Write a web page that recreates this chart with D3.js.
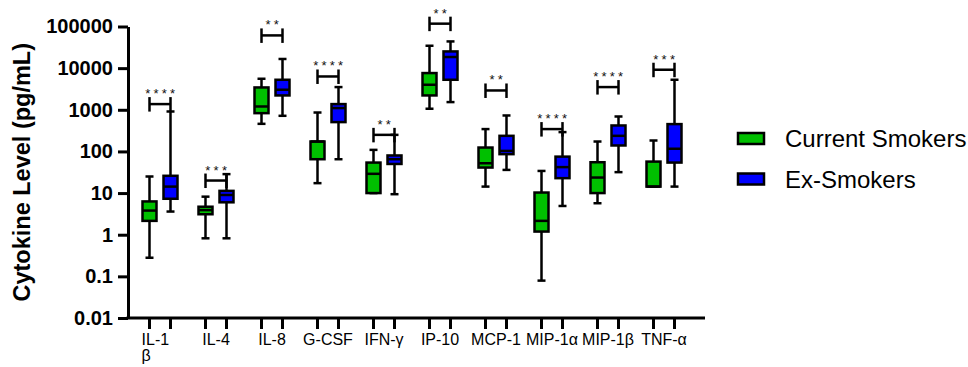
<!DOCTYPE html>
<html><head><meta charset="utf-8">
<script src="https://cdn.jsdelivr.net/npm/d3@7"></script>
<style>
body{margin:0;background:#fff}
svg{display:block;font-family:"Liberation Sans",Arial,Helvetica,sans-serif}
</style></head>
<body><svg id="c" width="968" height="367"></svg>
<script>
// ---------- data ----------
const categories = ["IL-1β","IL-4","IL-8","G-CSF","IFN-γ","IP-10","MCP-1","MIP-1α","MIP-1β","TNF-α"];
const tickLabelLines = [["IL-1","β"],["IL-4"],["IL-8"],["G-CSF"],["IFN-γ"],["IP-10"],["MCP-1"],["MIP-1α"],["MIP-1β"],["TNF-α"]];
const seriesNames = ["Current Smokers","Ex-Smokers"];

// Current smokers: min, q1, median, q3, max
const currentMin = [0.28, 0.82, 460, 17.3, 10, 1060, 14.3, 0.079, 5.7, 14.3];
const currentQ1  = [2.15, 3.1, 830, 65, 10, 2210, 41, 1.19, 10, 14.3];
const currentMed = [3.8, 3.9, 1200, 173, 29, 3990, 52, 2.15, 23.6, 14.3];
const currentQ3  = [6.3, 4.7, 3440, 173, 54, 7620, 124, 10.3, 55, 57];
const currentMax = [25, 8.2, 5560, 860, 109, 34500, 344, 34, 173, 183];

// Ex-smokers: min, q1, median, q3, max
const exMin = [3.6, 0.82, 717, 65, 9.4, 1530, 36, 4.9, 31.8, 14.3];
const exQ1  = [7.3, 6, 2210, 506, 50, 5260, 86, 22.8, 139, 54];
const exMed = [14.3, 9, 3030, 1100, 65, 18500, 103, 42, 237, 116];
const exQ3  = [26, 11.3, 5260, 1370, 80, 25200, 237, 75, 420, 453];
const exMax = [910, 28.5, 16600, 3510, 250, 43800, 730, 291, 690, 5260];

// significance annotations
const sigLabels = ["****","***","**","****","**","**","**","****","****","***"];
const sigLevel  = [1370, 20, 61100, 6310, 250, 117000, 2910, 344, 3510, 9160];

const yTicks = [0.01, 0.1, 1, 10, 100, 1000, 10000, 100000];

// ---------- layout ----------
const colors = {"Current Smokers":"#00c000","Ex-Smokers":"#0000ff"};
const svg = d3.select("#c");
const axisX0 = 128, axisX1 = 705, axisY = 318, axisTop = 26.5;

const x = d3.scaleBand().domain(categories).range([132, 692]).padding(0);
const xs = d3.scalePoint().domain(seriesNames).range([-10.5, 10.5]);
const y = d3.scaleLog().domain([0.01, 100000]).range([axisY, axisTop]);
const cx = (c, s) => x(c) + x.bandwidth()/2 + xs(s);

const boxes = [];
categories.forEach((c, i) => {
  boxes.push({cat:c, s:"Current Smokers", min:currentMin[i], q1:currentQ1[i], med:currentMed[i], q3:currentQ3[i], max:currentMax[i]});
  boxes.push({cat:c, s:"Ex-Smokers", min:exMin[i], q1:exQ1[i], med:exMed[i], q3:exQ3[i], max:exMax[i]});
});

// ---------- y axis ----------
const yAxis = svg.append("g").attr("transform", `translate(${axisX0},0)`)
  .call(d3.axisLeft(y).tickValues(yTicks).tickFormat(d3.format("~g")).tickSize(10).tickSizeOuter(0).tickPadding(5));
yAxis.select(".domain").attr("stroke","#000").attr("stroke-width",3);
yAxis.selectAll(".tick line").attr("stroke","#000").attr("stroke-width",3);
yAxis.selectAll(".tick text").attr("fill","#000").style("font-size","20px").style("font-weight","bold")
  .style("font-family",'"Liberation Sans",Arial,sans-serif');

svg.append("text")
  .attr("transform", `translate(22,${(axisTop+axisY)/2}) rotate(-90)`)
  .attr("text-anchor","middle").attr("dominant-baseline","central")
  .style("font-size","23.5px").style("font-weight","bold").text("Cytokine Level (pg/mL)");

// ---------- x axis ----------
svg.append("line").attr("x1",axisX0-1.5).attr("x2",axisX1).attr("y1",axisY).attr("y2",axisY)
  .attr("stroke","#000").attr("stroke-width",3);
svg.append("g").selectAll("line").data(boxes).join("line")
  .attr("x1", d => cx(d.cat, d.s)).attr("x2", d => cx(d.cat, d.s))
  .attr("y1", axisY).attr("y2", axisY + 11)
  .attr("stroke","#000").attr("stroke-width",3);

const labG = svg.append("g").style("font-size","16px");
categories.forEach((c, i) => {
  const center = x(c) + x.bandwidth()/2;
  const lines = tickLabelLines[i];
  if (lines.length === 1) {
    labG.append("text").attr("x", center).attr("y", 344.5).attr("text-anchor","middle").text(lines[0]);
  } else {
    const tmp = labG.append("text").text(lines.join(""));
    const w = tmp.node().getComputedTextLength(); tmp.remove();
    const t = labG.append("text").attr("x", center - w/2).attr("y", 344.5).attr("text-anchor","start");
    lines.forEach((ln, k) => t.append("tspan").attr("x", center - w/2).attr("dy", k === 0 ? 0 : 16.5).text(ln));
  }
});

// ---------- boxes ----------
const bw = 14, capW = 8, sw = 2.5;
const bg = svg.append("g");
const g = bg.selectAll("g").data(boxes).join("g");
g.append("line").attr("x1", d => cx(d.cat,d.s)).attr("x2", d => cx(d.cat,d.s))
  .attr("y1", d => y(d.min)).attr("y2", d => y(d.max)).attr("stroke","#000").attr("stroke-width",sw);
g.append("line").attr("x1", d => cx(d.cat,d.s)-capW/2).attr("x2", d => cx(d.cat,d.s)+capW/2)
  .attr("y1", d => y(d.max)).attr("y2", d => y(d.max)).attr("stroke","#000").attr("stroke-width",sw);
g.append("line").attr("x1", d => cx(d.cat,d.s)-capW/2).attr("x2", d => cx(d.cat,d.s)+capW/2)
  .attr("y1", d => y(d.min)).attr("y2", d => y(d.min)).attr("stroke","#000").attr("stroke-width",sw);
g.append("rect").attr("x", d => cx(d.cat,d.s)-bw/2).attr("width", bw)
  .attr("y", d => y(d.q3)).attr("height", d => Math.max(0.5, y(d.q1)-y(d.q3)))
  .attr("fill", d => colors[d.s]).attr("stroke","#000").attr("stroke-width",sw);
g.append("line").attr("x1", d => cx(d.cat,d.s)-bw/2).attr("x2", d => cx(d.cat,d.s)+bw/2)
  .attr("y1", d => y(d.med)).attr("y2", d => y(d.med)).attr("stroke","#000").attr("stroke-width",sw);

// ---------- significance brackets ----------
const sg = svg.append("g");
categories.forEach((c, i) => {
  const x1 = cx(c, seriesNames[0]), x2 = cx(c, seriesNames[1]), yy = y(sigLevel[i]);
  sg.append("line").attr("x1",x1).attr("x2",x2).attr("y1",yy).attr("y2",yy).attr("stroke","#000").attr("stroke-width",sw);
  [x1, x2].forEach(xx => sg.append("line").attr("x1",xx).attr("x2",xx).attr("y1",yy-7).attr("y2",yy+7.5)
    .attr("stroke","#000").attr("stroke-width",sw));
  sg.append("text").attr("x",(x1+x2)/2 + 1.75).attr("y", yy - 6).attr("text-anchor","middle")
    .style("font-size","13px").style("letter-spacing","3.2px").attr("fill","#111").text(sigLabels[i]);
});

// ---------- legend ----------
const lg = svg.append("g");
seriesNames.forEach((s, k) => {
  const cy = 138.5 + k*40.5;
  lg.append("rect").attr("x",738).attr("y",cy-5.5).attr("width",26).attr("height",11)
    .attr("fill",colors[s]).attr("stroke","#000").attr("stroke-width",2.5);
  lg.append("text").attr("x",785).attr("y",cy).attr("dominant-baseline","central")
    .style("font-size","24px").text(s);
});
</script></body></html>
